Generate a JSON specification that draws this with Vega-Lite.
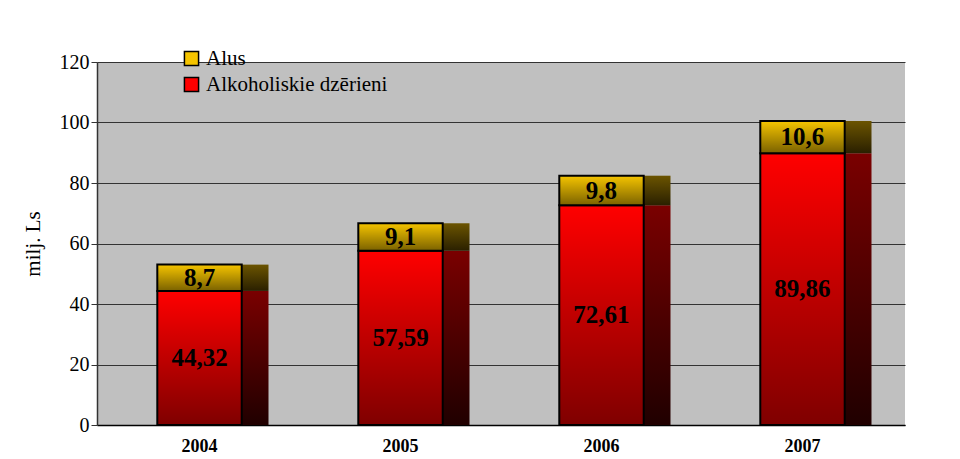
{
  "$schema": "https://vega.github.io/schema/vega-lite/v6.json",
  "width": 808,
  "height": 363,
  "autosize": "none",
  "padding": {"left": 97, "top": 62, "right": 55, "bottom": 34},
  "background": "white",
  "config": {
    "locale": {"number": {"decimal": ",", "thousands": " ", "grouping": [3], "currency": ["", ""]}},
    "view": {"fill": "#c0c0c0", "stroke": null},
    "font": "Liberation Serif",
    "axis": {"labelFont": "Liberation Serif", "titleFont": "Liberation Serif"},
    "legend": {"labelFont": "Liberation Serif"},
    "text": {"font": "Liberation Serif"}
  },
  "data": {
    "values": [
      {"year": "2004", "series": "Alkoholiskie dzērieni", "value": 44.32},
      {"year": "2004", "series": "Alus", "value": 8.7},
      {"year": "2005", "series": "Alkoholiskie dzērieni", "value": 57.59},
      {"year": "2005", "series": "Alus", "value": 9.1},
      {"year": "2006", "series": "Alkoholiskie dzērieni", "value": 72.61},
      {"year": "2006", "series": "Alus", "value": 9.8},
      {"year": "2007", "series": "Alkoholiskie dzērieni", "value": 89.86},
      {"year": "2007", "series": "Alus", "value": 10.6}
    ]
  },
  "transform": [
    {"stack": "value", "groupby": ["year"], "sort": [{"field": "series", "order": "ascending"}], "as": ["v0", "v1"]},
    {"calculate": "(datum.v0 + datum.v1) / 2", "as": "mid"}
  ],
  "encoding": {
    "x": {
      "field": "year", "type": "nominal",
      "scale": {"paddingInner": 0.58, "paddingOuter": 0.3},
      "axis": {"title": null, "labelAngle": 0, "labelFont": "Liberation Serif", "labelFontSize": 18, "labelFontWeight": "bold", "labelColor": "black", "domainColor": "black", "domainWidth": 1.5, "ticks": false, "labelPadding": 12}
    }
  },
  "layer": [
    {
      "transform": [{"filter": "datum.series == 'Alkoholiskie dzērieni'"}],
      "mark": {"type": "bar", "width": 28, "xOffset": 55, "strokeWidth": 0,
        "fill": {"gradient": "linear", "x1": 0, "y1": 0, "x2": 0, "y2": 1,
          "stops": [{"offset": 0, "color": "#7a0000"}, {"offset": 1, "color": "#200000"}]}},
      "encoding": {
        "y": {"field": "v1", "type": "quantitative"},
        "y2": {"field": "v0"}
      }
    },
    {
      "transform": [{"filter": "datum.series == 'Alus'"}],
      "mark": {"type": "bar", "width": 28, "xOffset": 55, "strokeWidth": 0,
        "fill": {"gradient": "linear", "x1": 0, "y1": 0, "x2": 0, "y2": 1,
          "stops": [{"offset": 0, "color": "#6b5400"}, {"offset": 1, "color": "#2a2000"}]}},
      "encoding": {
        "y": {"field": "v1", "type": "quantitative"},
        "y2": {"field": "v0"}
      }
    },
    {
      "mark": {"type": "bar", "stroke": "black", "strokeWidth": 2},
      "encoding": {
        "y": {"field": "v1", "type": "quantitative",
          "scale": {"domain": [0, 120]},
          "axis": {"title": "milj. Ls", "titleFont": "Liberation Serif", "titleFontSize": 21, "titleFontWeight": "normal", "titleColor": "black", "titlePadding": 16,
            "values": [0, 20, 40, 60, 80, 100, 120], "labelFont": "Liberation Serif", "labelFontSize": 20, "labelColor": "black", "gridColor": "#333333", "gridWidth": 1, "domainColor": "#333333", "domainWidth": 1.5, "tickColor": "#333333", "tickSize": 6, "labelPadding": 2}},
        "y2": {"field": "v0"},
        "color": {"field": "series", "type": "nominal",
          "scale": {"domain": ["Alus", "Alkoholiskie dzērieni"], "range": ["#f5c400", "#ff0000"]},
          "legend": {"title": null, "orient": "none", "legendX": 80, "legendY": -18, "labelFont": "Liberation Serif", "labelFontSize": 21, "labelColor": "black", "symbolType": "square", "symbolSize": 200, "symbolStrokeColor": "black", "symbolStrokeWidth": 1.5, "rowPadding": 4, "padding": 4, "labelLimit": 400}}
      }
    },
    {
      "mark": {"type": "bar", "strokeWidth": 0,
        "fill": {"gradient": "linear", "x1": 0, "y1": 0, "x2": 0, "y2": 1,
          "stops": [{"offset": 0, "color": "rgba(0,0,0,0)"}, {"offset": 1, "color": "rgba(0,0,0,0.5)"}]}},
      "encoding": {
        "y": {"field": "v1", "type": "quantitative"},
        "y2": {"field": "v0"}
      }
    },
    {
      "mark": {"type": "text", "font": "Liberation Serif", "fontSize": 25, "fontWeight": "bold", "color": "black", "baseline": "middle"},
      "encoding": {
        "y": {"field": "mid", "type": "quantitative"},
        "text": {"field": "value", "type": "quantitative", "format": ".2~f"}
      }
    }
  ]
}
